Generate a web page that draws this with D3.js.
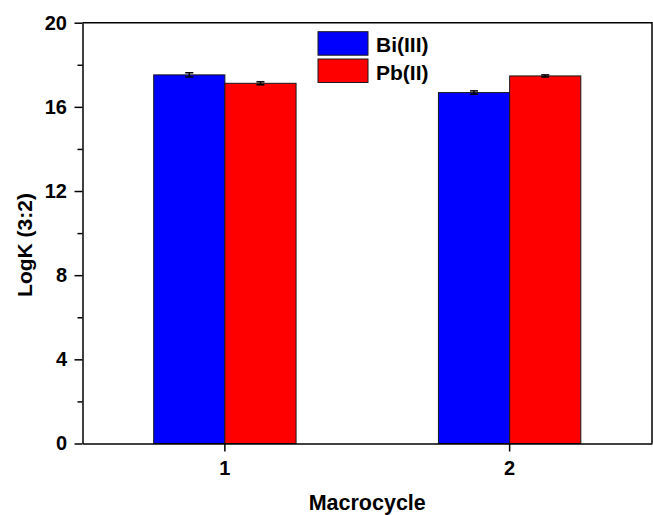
<!DOCTYPE html>
<html>
<head>
<meta charset="utf-8">
<script src="https://cdn.jsdelivr.net/npm/d3@7"></script>
<style>
  body { margin: 0; background: #fff; overflow: hidden; }
  text { font-family: "Liberation Sans", Arial, sans-serif; font-weight: bold; }
</style>
</head>
<body>
<div id="my_dataviz"></div>
<script>
// data
const categories = ["1", "2"];
const seriesNames = ["Bi(III)", "Pb(II)"];
const biValues = [17.52, 16.68];
const pbValues = [17.12, 17.47];
const biErrors = [0.1, 0.08];
const pbErrors = [0.07, 0.05];
const yTicks = [0, 4, 8, 12, 16, 20];
const yMinorTicks = [2, 6, 10, 14, 18];

const colors = {"Bi(III)": "#0000ff", "Pb(II)": "#ff0000"};

// set the dimensions and margins of the graph
const margin = {top: 22.7, right: 1, bottom: 71.5, left: 82.5},
    width = 653 - margin.left - margin.right,
    height = 515 - margin.top - margin.bottom;

const svg = d3.select("#my_dataviz")
  .append("svg")
    .attr("width", 653)
    .attr("height", 515)
    .style("display", "block")
  .append("g")
    .attr("transform", `translate(${margin.left},${margin.top})`);

// X scales
const x = d3.scaleBand()
  .domain(categories)
  .range([0, width])
  .paddingInner(0.5)
  .paddingOuter(0.25);

const xSub = d3.scaleBand()
  .domain(seriesNames)
  .range([0, x.bandwidth()]);

// Y scale
const y = d3.scaleLinear()
  .domain([0, 20])
  .range([height, 0]);

const rows = categories.map((c, i) => ({
  cat: c,
  vals: [
    {name: "Bi(III)", v: biValues[i], e: biErrors[i]},
    {name: "Pb(II)", v: pbValues[i], e: pbErrors[i]}
  ]
}));

// bars
const groups = svg.selectAll(".grp")
  .data(rows)
  .join("g")
    .attr("class", "grp")
    .attr("transform", d => `translate(${x(d.cat)},0)`);

groups.selectAll("rect")
  .data(d => d.vals)
  .join("rect")
    .attr("x", d => xSub(d.name))
    .attr("y", d => y(d.v))
    .attr("width", xSub.bandwidth())
    .attr("height", d => height - y(d.v))
    .attr("fill", d => colors[d.name])
    .attr("stroke", "#1a1a1a")
    .attr("stroke-width", 1);

// error bars
const eb = groups.selectAll(".err")
  .data(d => d.vals)
  .join("g")
    .attr("class", "err")
    .attr("transform", d => `translate(${xSub(d.name) + xSub.bandwidth() / 2},0)`);

eb.append("line")
  .attr("x1", 0).attr("x2", 0)
  .attr("y1", d => y(d.v + d.e))
  .attr("y2", d => y(d.v - d.e))
  .attr("stroke", "#000").attr("stroke-width", 1.5);
eb.append("line")
  .attr("x1", -4).attr("x2", 4)
  .attr("y1", d => y(d.v + d.e)).attr("y2", d => y(d.v + d.e))
  .attr("stroke", "#000").attr("stroke-width", 1.5);
eb.append("line")
  .attr("x1", -4).attr("x2", 4)
  .attr("y1", d => y(d.v - d.e)).attr("y2", d => y(d.v - d.e))
  .attr("stroke", "#000").attr("stroke-width", 1.5);

// frame top and right
svg.append("path")
  .attr("d", `M0,0H${width}V${height}`)
  .attr("fill", "none")
  .attr("stroke", "#000")
  .attr("stroke-width", 1.5);

// Y axis minor ticks
svg.append("g")
  .call(d3.axisLeft(y).tickValues(yMinorTicks).tickSize(5).tickFormat(""))
  .call(g => g.select(".domain").remove())
  .call(g => g.selectAll("line").attr("stroke-width", 1.5));

// Y axis
svg.append("g")
  .call(d3.axisLeft(y).tickValues(yTicks).tickSize(8).tickSizeOuter(0).tickPadding(7.5))
  .call(g => g.select(".domain").attr("stroke-width", 1.5))
  .call(g => g.selectAll("line").attr("stroke-width", 1.5))
  .call(g => g.selectAll("text").style("font-size", "20px").attr("fill", "#000"));

// X axis
svg.append("g")
  .attr("transform", `translate(0,${height})`)
  .call(d3.axisBottom(x).tickSize(8).tickSizeOuter(0).tickPadding(9))
  .call(g => g.select(".domain").attr("stroke-width", 1.5))
  .call(g => g.selectAll("line").attr("stroke-width", 1.5))
  .call(g => g.selectAll("text").style("font-size", "20px").attr("fill", "#000"));

// axis labels
svg.append("text")
  .attr("text-anchor", "middle")
  .attr("x", width / 2)
  .attr("y", height + 66.3)
  .style("font-size", "21.5px")
  .text("Macrocycle");

svg.append("text")
  .attr("text-anchor", "middle")
  .attr("transform", "rotate(-90)")
  .attr("x", -(245 - margin.top))
  .attr("y", -51)
  .style("font-size", "21px")
  .text("LogK (3:2)");

// legend
const legend = svg.append("g")
  .attr("transform", `translate(${318 - margin.left},${31.7 - margin.top})`);

const li = legend.selectAll("g")
  .data(seriesNames)
  .join("g")
    .attr("transform", (d, i) => `translate(0,${i * 27.3})`);

li.append("rect")
  .attr("width", 50)
  .attr("height", 23.5)
  .attr("fill", d => colors[d])
  .attr("stroke", "#1a1a1a")
  .attr("stroke-width", 1);

li.append("text")
  .attr("x", 58)
  .attr("y", 20.6)
  .style("font-size", "21px")
  .text(d => d);
</script>
</body>
</html>
